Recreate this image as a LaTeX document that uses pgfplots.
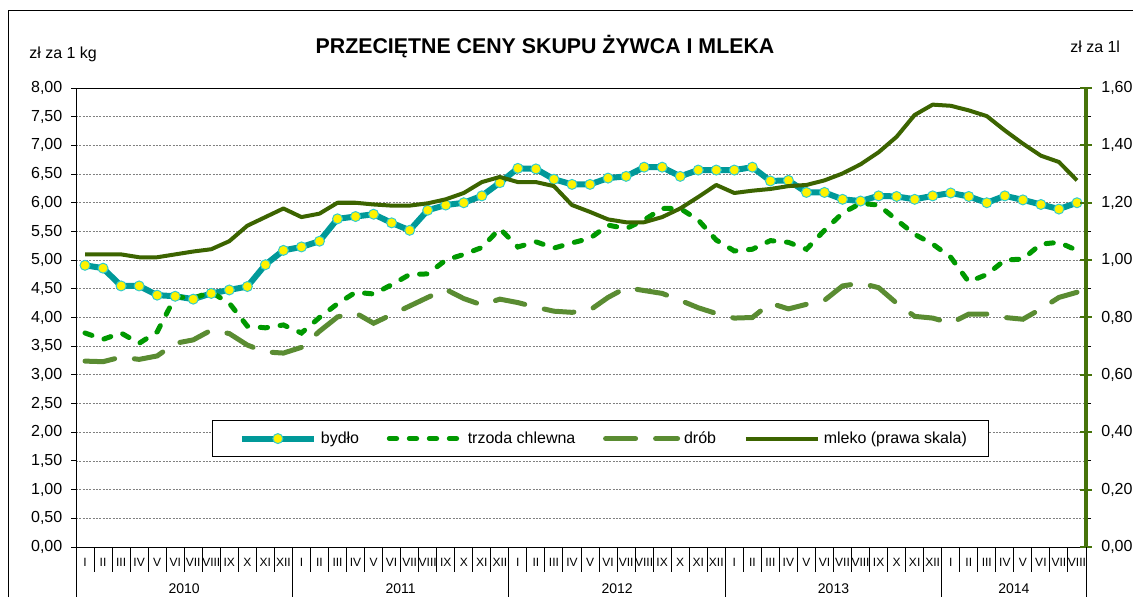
\documentclass[border=0pt]{standalone}
\usepackage{fontspec}
\setmainfont{Liberation Sans}
\usepackage{pgfplots}
\usepackage{pgfplotstable}
\pgfplotsset{compat=1.18}
\definecolor{cBy}{RGB}{0,153,153}
\definecolor{cByEdge}{RGB}{51,204,204}
\definecolor{cTr}{RGB}{0,153,0}
\definecolor{cDr}{RGB}{90,140,50}
\definecolor{cMl}{RGB}{60,100,0}
\definecolor{cAx}{RGB}{70,115,10}

\pgfplotstableread{
x by tr dr ml
0.5 4.91 3.73 3.24 1.020
1.5 4.86 3.62 3.23 1.020
2.5 4.55 3.73 3.31 1.020
3.5 4.55 3.55 3.27 1.010
4.5 4.39 3.75 3.33 1.010
5.5 4.37 4.36 3.55 1.020
6.5 4.32 4.34 3.61 1.030
7.5 4.42 4.44 3.78 1.038
8.5 4.48 4.25 3.72 1.066
9.5 4.54 3.85 3.52 1.120
10.5 4.92 3.82 3.40 1.150
11.5 5.17 3.87 3.38 1.180
12.5 5.23 3.73 3.48 1.150
13.5 5.33 4.00 3.76 1.162
14.5 5.72 4.24 4.01 1.200
15.5 5.76 4.44 4.08 1.200
16.5 5.80 4.41 3.90 1.194
17.5 5.65 4.57 4.05 1.190
18.5 5.52 4.75 4.20 1.190
19.5 5.87 4.76 4.35 1.198
20.5 5.96 5.00 4.49 1.212
21.5 6.00 5.10 4.33 1.234
22.5 6.12 5.22 4.22 1.272
23.5 6.35 5.55 4.32 1.290
24.5 6.60 5.23 4.26 1.272
25.5 6.59 5.32 4.18 1.272
26.5 6.41 5.21 4.11 1.258
27.5 6.32 5.30 4.09 1.192
28.5 6.32 5.38 4.13 1.168
29.5 6.43 5.61 4.35 1.142
30.5 6.46 5.55 4.52 1.132
31.5 6.62 5.70 4.47 1.132
32.5 6.62 5.90 4.42 1.150
33.5 6.46 5.90 4.30 1.180
34.5 6.57 5.70 4.17 1.220
35.5 6.57 5.35 4.07 1.262
36.5 6.57 5.16 3.99 1.234
37.5 6.62 5.19 4.00 1.242
38.5 6.38 5.34 4.25 1.248
39.5 6.39 5.31 4.15 1.258
40.5 6.18 5.19 4.23 1.262
41.5 6.18 5.52 4.30 1.278
42.5 6.06 5.82 4.55 1.302
43.5 6.03 5.99 4.60 1.334
44.5 6.12 5.96 4.52 1.376
45.5 6.11 5.70 4.25 1.430
46.5 6.06 5.45 4.02 1.506
47.5 6.12 5.28 3.99 1.542
48.5 6.17 5.05 3.90 1.538
49.5 6.11 4.62 4.06 1.522
50.5 6.00 4.75 4.06 1.502
51.5 6.12 5.00 4.00 1.452
52.5 6.05 5.02 3.97 1.406
53.5 5.97 5.28 4.15 1.364
54.5 5.89 5.31 4.35 1.342
55.5 6.00 5.17 4.44 1.278
}\data

\begin{document}
\begin{tikzpicture}[x=0.75pt,y=0.75pt]
\useasboundingbox (0,0) rectangle (1133,597);
\draw[line width=0.75pt] (8,0) -- (8,586) -- (1133,586);
\node[anchor=base, inner sep=0, font=\bfseries\fontsize{16}{19}\selectfont] at (545,543) {PRZECIĘTNE CENY SKUPU ŻYWCA I MLEKA};
\node[anchor=base west, inner sep=0, font=\fontsize{12}{14}\selectfont] at (29,538.5) {zł za 1 kg};
\node[anchor=base west, inner sep=0, font=\fontsize{12}{14}\selectfont] at (1070,544) {zł za 1l};

\begin{axis}[
  at={(57pt,37.5pt)}, anchor=south west,
  width=757.5pt, height=344.25pt, scale only axis,
  xmin=0, xmax=56, ymin=0, ymax=8,
  axis line style={black, line width=0.75pt},
  ytick={0,0.5,...,8},
  ymajorgrids,
  major grid style={gray, line width=0.6pt, dash pattern=on 1.5pt off 1pt},
  tick align=outside,
  ytick style={black, line width=0.75pt},
  major tick length=3.75pt,
  yticklabel style={font=\fontsize{12}{14}\selectfont, xshift=-3pt, /pgf/number format/.cd, fixed, fixed zerofill, precision=2, use comma, assume math mode=true},
  xtick={0.5,1.5,...,55.5},
  xticklabels={I,II,III,IV,V,VI,VII,VIII,IX,X,XI,XII,I,II,III,IV,V,VI,VII,VIII,IX,X,XI,XII,I,II,III,IV,V,VI,VII,VIII,IX,X,XI,XII,I,II,III,IV,V,VI,VII,VIII,IX,X,XI,XII,I,II,III,IV,V,VI,VII,VIII},
  xtick style={draw=none},
  xticklabel style={font=\fontsize{9}{10}\selectfont, anchor=base, yshift=-11pt, inner sep=0pt},
  legend columns=4,
  legend style={at={(0.1347,0.2767)}, anchor=north west, draw=black, line width=0.75pt,
    font=\fontsize{12}{14}\selectfont, inner xsep=14.5pt, inner ysep=6.4pt,
    /tikz/every odd column/.append style={column sep=1pt},
    /tikz/every even column/.append style={column sep=13.5pt}},
  legend image code/.code={\path (-5.25pt,0pt); \draw[mark repeat=2,mark phase=2,#1] plot coordinates {(0pt,0pt) (27pt,0pt) (54pt,0pt)};},
]
\addplot[cBy, line width=4.5pt, mark=*, mark size=3.75pt,
  mark options={solid, fill=yellow, draw=cByEdge, line width=0.75pt}] table[x=x,y=by]{\data};
\addlegendentry{bydło}
\addplot[cTr, line width=3.75pt, line cap=round, dash pattern=on 5.5pt off 9.5pt] table[x=x,y=tr]{\data};
\addlegendentry{trzoda chlewna}
\addplot[cDr, line width=3.75pt, line cap=round, dash pattern=on 22.5pt off 15pt] table[x=x,y=dr]{\data};
\addlegendentry{drób}
\addlegendimage{cMl, line width=3pt}
\addlegendentry{mleko (prawa skala)}
\end{axis}

\begin{axis}[
  at={(57pt,37.5pt)}, anchor=south west,
  width=757.5pt, height=344.25pt, scale only axis,
  xmin=0, xmax=56, ymin=0, ymax=1.6,
  axis y line*=right, axis x line=none,
  ytick={0,0.2,0.4,0.6,0.8,1.0,1.2,1.4,1.6},
  y axis line style={draw=none},
  ytick style={draw=none},
  tick align=center, major tick length=6pt,
  yticklabel style={font=\fontsize{12}{14}\selectfont, xshift=5pt, /pgf/number format/.cd, fixed, fixed zerofill, precision=2, use comma, assume math mode=true},
]
\addplot[cMl, line width=3pt, line join=round, no marks] table[x=x,y=ml]{\data};
\end{axis}

% right (secondary) axis line and crossing ticks
\draw[cAx, line width=2.5pt] (1086,50) -- (1086,509);
\foreach \k in {0,...,8} {\draw[cAx, line width=1.5pt] (1080,{50+\k*57.375}) -- (1092,{50+\k*57.375});}

\foreach \i in {0,...,56} {\draw[line width=0.75pt] ({76+\i*18.0357},50) -- ++(0,-25);}
\foreach \i in {0,12,24,36,48,56} {\draw[line width=0.75pt] ({76+\i*18.0357},50) -- ({76+\i*18.0357},0);}
\foreach \i/\y in {6/2010,18/2011,30/2012,42/2013,52/2014} {\node[anchor=base, inner sep=0, font=\fontsize{10.5}{12}\selectfont] at ({76+\i*18.0357},4) {\y};}
\end{tikzpicture}
\end{document}
